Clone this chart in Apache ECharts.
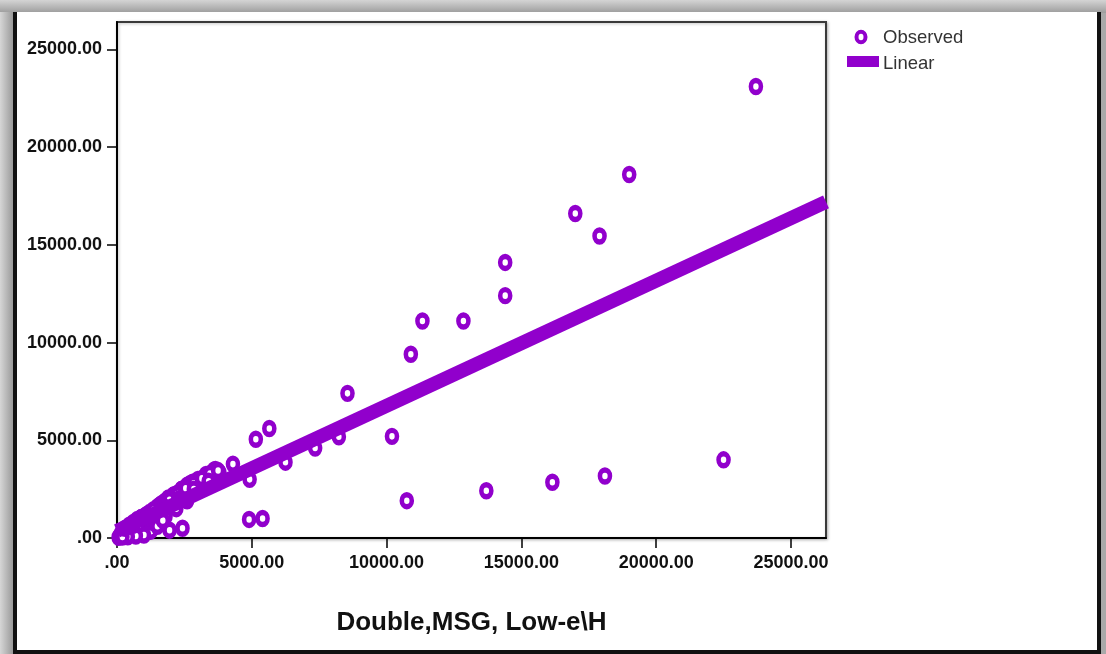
<!DOCTYPE html>
<html>
<head>
<meta charset="utf-8">
<script src="https://cdn.jsdelivr.net/npm/echarts@6/dist/echarts.min.js"></script>
<style>
html,body{margin:0;padding:0;background:#fff;}
#chart{width:1106px;height:654px;}
</style>
</head>
<body>
<div id="chart"></div>
<script>
// ---- data ----
const observedX = [23700,19000,17000,17900,14400,14400,11330,12850,10900,8550,5650,5150,8230,10200,7350,6250,4920,4300,22500,18100,16150,13700,10750,5400,4900,2430,1950,
  60,150,250,350,450,500,650,700,800,900,950,1050,1100,1200,1250,1300,1400,1450,1550,1600,1700,1750,1850,1900,2000,2100,2150,2250,2350,2400,2500,2600,2700,2800,2900,3000,3150,3300,3500,3650,3800,1000,700,400,1300,1800,200,
  300,600,900,1200,1500,1800,2100,2400,2700,3000,3300,3600,1500,1700,2200,2600,
  450,750,1050,1350,1650,1950,2250,2550,2850,3150,3450,3750,600,1150,1750,2300,2850,3400];
const observedY = [23100,18600,16600,15450,14100,12400,11100,11100,9400,7400,5600,5050,5180,5200,4600,3880,3000,3780,4000,3170,2850,2420,1910,1000,950,500,400,
  40,250,120,420,300,650,500,850,700,1050,600,900,1200,1000,350,1300,1150,1500,1300,1700,1450,1850,1600,2050,1750,2200,1900,2300,2100,2500,2250,2700,2450,2850,2600,2950,2800,3150,3300,3500,3350,150,100,60,800,1100,50,
  500,800,1050,1300,1600,1900,2200,2500,2780,3000,3250,3480,600,900,1500,1900,
  650,950,1150,1450,1750,1950,2250,2550,2800,3050,3300,3450,650,1050,1600,2000,2500,2900];
const fitIntercept = 363;
const fitSlope = 0.64;
const xTickValues = [0,5000,10000,15000,20000,25000];
const xTickLabels = ['.00','5000.00','10000.00','15000.00','20000.00','25000.00'];
const yTickValues = [0,5000,10000,15000,20000,25000];
const yTickLabels = ['.00','5000.00','10000.00','15000.00','20000.00','25000.00'];
const xMax = 26300;
const yMax = 26400;
const xTitle = 'Double,MSG, Low-e\\H';
const seriesNames = ['Observed','Linear'];

const PURPLE = '#9100CC';
const scatterData = observedX.map((x,i)=>[x, observedY[i]]);
const lineData = [[0, fitIntercept], [xMax, fitIntercept + fitSlope*xMax]];
const labelFont = "'Liberation Sans', Arial, sans-serif";

const chart = echarts.init(document.getElementById('chart'), null, {renderer:'canvas'});
chart.setOption({
  animation:false,
  backgroundColor:'#ffffff',
  graphic:[
    {type:'rect', z:-10, silent:true, shape:{x:0,y:0,width:1106,height:654}, style:{fill:'#a9a9a9'}},
    {type:'rect', z:-10, silent:true, shape:{x:0,y:0,width:1106,height:13},
      style:{fill:new echarts.graphic.LinearGradient(0,0,0,1,[{offset:0,color:'#d4d4d4'},{offset:1,color:'#9c9c9c'}])}},
    {type:'rect', z:-10, silent:true, shape:{x:0,y:12,width:13,height:642},
      style:{fill:new echarts.graphic.LinearGradient(0,0,1,0,[{offset:0,color:'#d6d6d6'},{offset:1,color:'#9a9a9a'}])}},
    {type:'rect', z:-10, silent:true, shape:{x:13,y:12,width:1088,height:642}, style:{fill:'#111'}},
    {type:'rect', z:-10, silent:true, shape:{x:17,y:12,width:1080,height:638}, style:{fill:'#ffffff'}},
    {type:'ellipse', z:10, silent:true, shape:{cx:861,cy:37,rx:4.5,ry:5.2}, style:{fill:'#fff',stroke:PURPLE,lineWidth:4}},
    {type:'text', z:10, silent:true, x:883, y:38, style:{text:seriesNames[0], font:"18.5px 'Liberation Sans', Arial, sans-serif", fill:'#333', verticalAlign:'middle'}},
    {type:'rect', z:10, silent:true, shape:{x:847,y:56,width:32,height:11}, style:{fill:PURPLE}},
    {type:'text', z:10, silent:true, x:883, y:64, style:{text:seriesNames[1], font:"18.5px 'Liberation Sans', Arial, sans-serif", fill:'#333', verticalAlign:'middle'}}
  ],
  grid:{left:117, top:22, right:280, bottom:116, show:true, backgroundColor:'#fff', borderColor:'#3a3a3a', borderWidth:2,
    shadowColor:'rgba(0,0,0,0.25)', shadowBlur:3, shadowOffsetX:1, shadowOffsetY:1},
  xAxis:{
    type:'value', min:0, max:xMax, interval:5000,
    name:xTitle, nameLocation:'middle', nameGap:72,
    nameTextStyle:{fontFamily:labelFont, fontWeight:'bold', fontSize:26, color:'#111'},
    axisLine:{show:true, onZero:false, lineStyle:{color:'#000', width:2}},
    axisTick:{show:true, length:10, lineStyle:{color:'#000', width:1.5}, customValues:xTickValues},
    axisLabel:{margin:16, fontFamily:labelFont, fontWeight:'bold', fontSize:18, color:'#111',
      customValues:xTickValues, formatter:(v)=>{const i=xTickValues.indexOf(v); return i>=0?xTickLabels[i]:'';}},
    splitLine:{show:false}
  },
  yAxis:{
    type:'value', min:0, max:yMax, interval:5000,
    axisLine:{show:true, onZero:false, lineStyle:{color:'#000', width:2}},
    axisTick:{show:true, length:10, lineStyle:{color:'#000', width:1.5}, customValues:yTickValues},
    axisLabel:{margin:15, fontFamily:labelFont, fontWeight:'bold', fontSize:18, color:'#111',
      customValues:yTickValues, formatter:(v)=>{const i=yTickValues.indexOf(v); return i>=0?yTickLabels[i]:'';}},
    splitLine:{show:false}
  },
  series:[
    {name:seriesNames[0], type:'scatter', data:scatterData, symbol:'circle', symbolSize:[10,12],
      itemStyle:{color:'#ffffff', borderColor:PURPLE, borderWidth:5, opacity:1}, z:2},
    {name:seriesNames[1], type:'line', data:lineData, showSymbol:false, symbol:'none', clip:true,
      lineStyle:{color:PURPLE, width:14, cap:'butt'}, z:3}
  ]
});
</script>
</body>
</html>
